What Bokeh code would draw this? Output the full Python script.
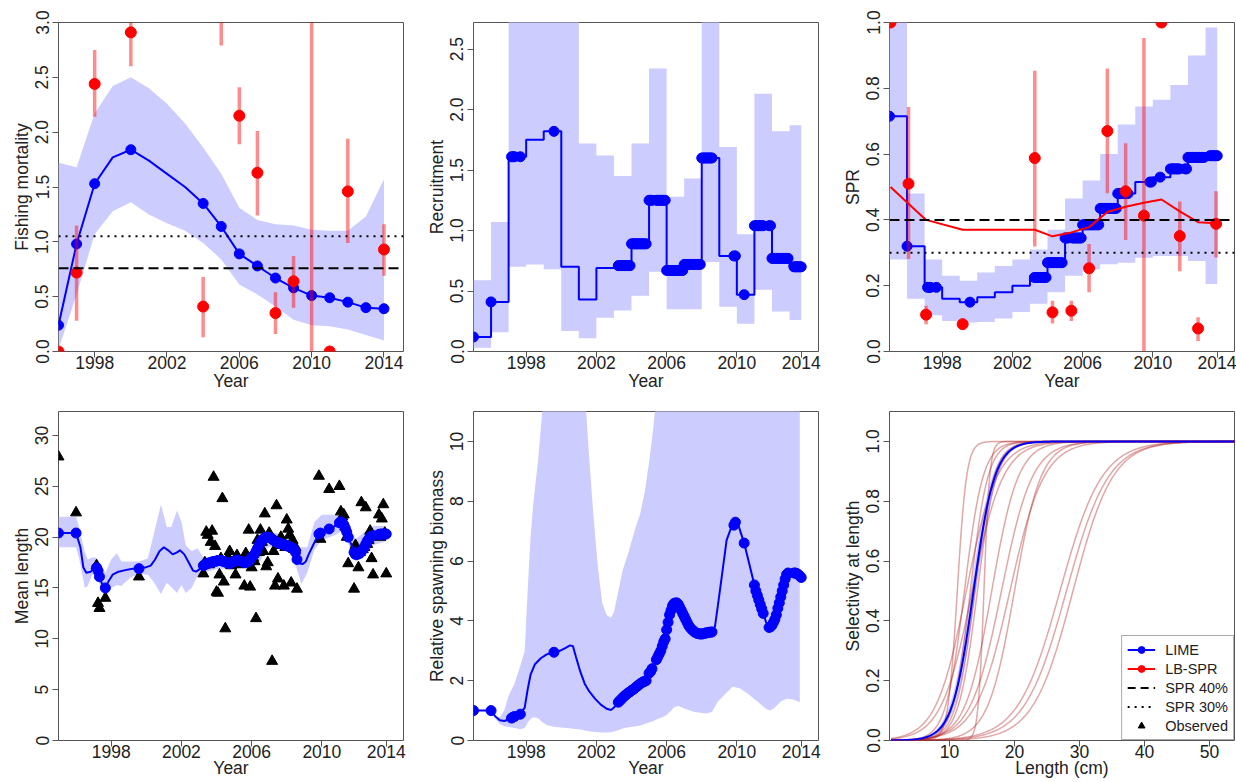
import numpy as np
from bokeh.plotting import figure
from bokeh.layouts import gridplot
from bokeh.models import (FixedTicker, PrintfTickFormatter, Range1d, Legend,
                          LegendItem, Span)
from bokeh.embed import file_html
from bokeh.resources import INLINE

FONT = "Liberation Sans"
AXIS_FONT_SIZE = "17.5px"
BLUE = "#0000ff"
BAND = "#ccccff"
RED = "#ff0000"
INK = "#222222"
FRAME = "#555555"

# ---------------------------------------------------------------- data ----
# Annual fishing mortality (LIME estimate with interval)
f_years = list(range(1996, 2015))
f_est = [0.24, 0.98, 1.53, 1.77, 1.84, 1.74, 1.62, 1.50, 1.35, 1.14, 0.89,
         0.78, 0.67, 0.58, 0.51, 0.49, 0.45, 0.40, 0.39]
f_lo = [0.02, 0.52, 1.07, 1.28, 1.36, 1.25, 1.17, 1.10, 0.99, 0.84, 0.61,
        0.52, 0.41, 0.29, 0.24, 0.23, 0.20, 0.15, 0.10]
f_hi = [1.72, 1.68, 2.17, 2.42, 2.50, 2.40, 2.26, 2.08, 1.86, 1.62, 1.31,
        1.20, 1.16, 1.15, 1.11, 1.10, 1.10, 1.23, 1.57]
f_ref40 = 0.76
f_ref30 = 1.05

# LB-SPR annual estimates (years with length data)
lb_years = [1996, 1997, 1998, 2000, 2004, 2005, 2006, 2007, 2008, 2009,
            2010, 2011, 2012, 2013, 2014]
lb_f = [0.0, 0.72, 2.44, 2.91, 0.41, 3.60, 2.15, 1.63, 0.35, 0.64,
        4.80, 0.0, 1.46, 6.50, 0.93]
lb_f_lo = [0.0, 0.28, 2.14, 2.60, 0.13, 2.79, 1.89, 1.24, 0.16, 0.40,
           0.0, 0.0, 0.99, 5.00, 0.69]
lb_f_hi = [0.0, 1.15, 2.75, 3.30, 0.68, 4.60, 2.41, 2.01, 0.54, 0.87,
           9.00, 0.0, 1.94, 8.00, 1.16]
# same estimates on the monthly time axis
lb_month = [1.7, 14.0, 26.0, 51.0, 100.3, 112.4, 125.3, 137.4, 149.9, 162.4,
            174.9, 186.9, 199.4, 211.9, 224.2]
lb_spr = [1.0, 0.51, 0.112, 0.083, 0.588, 0.119, 0.124, 0.253, 0.67, 0.487,
          0.413, 1.0, 0.351, 0.07, 0.388]
lb_spr_lo = [1.0, 0.281, 0.083, 0.068, 0.319, 0.085, 0.093, 0.18, 0.481,
             0.339, 0.0, 1.0, 0.244, 0.032, 0.286]
lb_spr_hi = [1.0, 0.743, 0.139, 0.10, 0.853, 0.154, 0.154, 0.327, 0.86,
             0.633, 0.953, 1.0, 0.456, 0.104, 0.487]
lb_spr_smooth = [0.50, 0.449, 0.40, 0.37, 0.37, 0.35, 0.362, 0.378, 0.424,
                 0.44, 0.452, 0.462, 0.426, 0.393, 0.39]
spr_ref40 = 0.4
spr_ref30 = 0.3

# Monthly time steps (1 = Jan 1995) that carry length observations
obs_months = ([1, 13, 27, 28, 29, 33, 56] + list(range(100, 120)) +
              [121, 122, 123] + list(range(126, 165)) + [179, 180, 186] +
              list(range(193, 200)) + list(range(203, 217)) +
              list(range(220, 226)))
last_month = 225
tick_months = [37, 85, 133, 181, 225]
tick_labels = ["1998", "2002", "2006", "2010", "2014"]

# Annual recruitment and SPR (LIME), with intervals
ann_years = list(range(1995, 2014))
rec_est = [0.12, 0.41, 1.61, 1.75, 1.82, 0.70, 0.43, 0.69, 0.71, 0.89, 1.25,
           0.67, 0.72, 1.60, 0.79, 0.47, 1.04, 0.77, 0.70]
rec_lo = [0.03, 0.16, 0.70, 0.72, 0.68, 0.17, 0.11, 0.28, 0.34, 0.46, 0.66,
          0.35, 0.35, 0.74, 0.37, 0.23, 0.51, 0.33, 0.26]
rec_hi = [0.59, 1.07, 5.0, 5.0, 5.0, 5.0, 1.72, 1.62, 1.45, 1.72, 2.34,
          1.28, 1.43, 5.0, 1.69, 0.97, 2.13, 1.82, 1.87]
spr_est = [0.715, 0.32, 0.195, 0.16, 0.15, 0.165, 0.18, 0.20, 0.225, 0.27,
           0.345, 0.385, 0.435, 0.48, 0.515, 0.53, 0.555, 0.59, 0.595]
spr_lo = [0.28, 0.16, 0.11, 0.093, 0.088, 0.09, 0.10, 0.12, 0.145, 0.18,
          0.23, 0.25, 0.265, 0.27, 0.285, 0.29, 0.29, 0.275, 0.205]
spr_hi = [1.0, 0.48, 0.28, 0.23, 0.215, 0.24, 0.26, 0.28, 0.31, 0.37,
          0.465, 0.52, 0.60, 0.69, 0.745, 0.765, 0.81, 0.90, 0.985]

# Mean length: estimated curve (monthly knots), interval and observations
ml_months = ([1, 13, 16, 18, 20, 23, 25, 27, 28, 29, 31, 33, 35, 38, 42, 48,
              52, 56, 60, 64, 67, 70, 73, 76, 79, 82, 84, 87, 90, 93, 95, 97] +
             list(range(100, 120)) + [121, 122, 123] + list(range(126, 165)) +
             [166, 168, 170, 172, 175, 177, 179, 180, 183, 186, 189, 191] +
             list(range(193, 200)) + [201] + list(range(203, 217)) + [218] +
             list(range(220, 226)))
ml_est = ([20.4, 20.4, 19.0, 17.0, 16.5, 16.6, 16.9, 17.0, 16.7, 16.1, 15.3,
           15.0, 15.6, 16.3, 16.6, 16.8, 16.9, 16.9, 17.0, 17.2, 17.8, 18.6,
           19.0, 18.7, 18.3, 18.5, 18.7, 18.3, 17.5, 16.7, 16.6, 16.8] +
          [17.2, 17.3, 17.35, 17.4, 17.45, 17.5, 17.55, 17.6, 17.6, 17.65,
           17.7, 17.7, 17.7, 17.65, 17.6, 17.55, 17.5, 17.45, 17.4, 17.45] +
          [17.6, 17.7, 17.75] +
          [17.6, 17.55, 17.5, 17.5, 17.55, 17.6, 17.8, 18.0, 18.15, 18.3,
           18.6, 18.9, 19.2, 19.5, 19.7, 19.8, 19.9, 20.0, 20.0, 19.95,
           19.9, 19.8, 19.7, 19.6, 19.5, 19.45, 19.4, 19.35, 19.3, 19.25,
           19.2, 19.15, 19.1, 19.05, 19.0, 18.9, 18.8, 18.5, 17.8] +
          [17.4, 17.35, 17.6, 18.3, 19.2, 19.8, 20.3, 20.4, 20.6, 20.8,
           21.0, 21.2] +
          [21.4, 21.5, 21.4, 21.2, 20.9, 20.5, 20.0] + [19.3] +
          [18.5, 18.3, 18.3, 18.35, 18.45, 18.6, 18.8, 19.0, 19.3, 19.6,
           19.8, 20.0, 20.1, 20.15] + [20.2] +
          [20.25, 20.3, 20.3, 20.3, 20.3, 20.3])
mlb_months = [1, 13, 15, 19, 21, 24, 27, 30, 33, 37, 41, 44, 50, 56, 62, 66,
              71, 75, 78, 82, 85, 88, 92, 96, 100, 110, 120, 132, 138, 144,
              152, 160, 164, 167, 171, 176, 181, 190, 195, 200, 204, 210,
              216, 225]
mlb_lo = [19.0, 19.0, 18.0, 15.0, 15.2, 16.3, 16.3, 15.0, 14.0, 15.0, 15.3,
          15.2, 16.0, 16.4, 16.3, 15.6, 14.4, 15.5, 15.1, 14.5, 15.3, 14.5,
          15.0, 16.2, 16.5, 16.9, 16.9, 17.0, 17.4, 19.0, 19.2, 18.8, 16.8,
          15.4, 16.5, 18.8, 19.7, 20.2, 20.6, 19.0, 17.6, 18.0, 19.2, 19.6]
mlb_hi = [22.0, 22.0, 21.0, 18.5, 17.8, 18.0, 18.0, 17.3, 16.5, 17.8, 18.4,
          17.6, 17.6, 17.6, 17.9, 20.2, 23.2, 21.0, 21.0, 22.6, 21.5, 19.2,
          18.6, 18.9, 18.0, 18.2, 18.0, 18.3, 19.0, 20.6, 20.3, 19.8, 19.0,
          19.0, 19.0, 21.5, 22.2, 22.2, 22.6, 21.0, 19.8, 20.5, 21.1, 21.1]
ml_obs = ([27.9, 22.4, 17.2, 13.5, 13.0, 14.0, 16.1] +
          [16.4, 17.5, 20.5, 20.2, 17.3, 19.5, 20.6, 25.9, 19.1, 14.6, 14.5,
           16.3, 17.9, 23.8, 15.6, 11.0, 17.6, 18.0, 18.6, 17.2] +
          [17.5, 16.3, 18.2] +
          [17.3, 17.8, 15.2, 18.4, 17.6, 20.7, 15.1, 17.0, 18.0, 17.6, 12.0,
           19.7, 18.5, 20.7, 19.5, 18.6, 22.3, 17.1, 17.5, 20.4, 19.8, 7.8,
           18.6, 15.2, 23.1, 15.9, 19.2, 20.0, 19.5, 15.2, 19.0, 21.7, 20.8,
           20.2, 15.5, 19.7, 18.8, 19.0, 14.9] +
          [26.0, 19.8, 24.7] +
          [25.0, 22.5, 22.0, 22.2, 21.0, 20.0, 17.4] +
          [14.9, 19.2, 18.3, 17.0, 18.5, 23.4, 18.8, 19.0, 22.9, 19.3, 19.7,
           20.6, 17.9, 16.3] +
          [22.2, 20.0, 21.8, 23.2, 20.4, 16.4])

# Relative spawning biomass: estimated curve (monthly knots) and interval
sb_months = ([1, 13, 16, 19, 22, 25, 27, 28, 29, 31, 33, 36, 38, 40, 43, 47,
              51, 56, 60, 64, 67, 69, 71, 74, 77, 80, 84, 88, 92, 95, 97] +
             list(range(100, 120)) + [121, 122, 123] + list(range(126, 165)) +
             [166, 168, 171, 174, 177, 179, 180, 182, 184, 186, 188, 191] +
             list(range(193, 200)) + [201] + list(range(203, 217)) + [218] +
             list(range(220, 226)))
sb_est = ([1.0, 1.0, 0.8, 0.68, 0.65, 0.7, 0.75, 0.78, 0.8, 0.85, 0.88, 1.1,
           1.7, 2.2, 2.55, 2.75, 2.88, 2.95, 3.0, 3.1, 3.18, 3.15, 2.8, 2.3,
           1.9, 1.65, 1.4, 1.2, 1.06, 1.02, 1.1] +
          [1.28, 1.33, 1.38, 1.43, 1.48, 1.52, 1.56, 1.6, 1.63, 1.67, 1.7,
           1.74, 1.78, 1.82, 1.86, 1.9, 1.93, 1.96, 1.98, 2.0] +
          [2.25, 2.3, 2.4] +
          [2.7, 2.8, 2.9, 3.0, 3.15, 3.3, 3.4, 3.7, 3.95, 4.2, 4.35, 4.5,
           4.58, 4.6, 4.6, 4.55, 4.45, 4.35, 4.25, 4.15, 4.05, 3.95, 3.85,
           3.78, 3.72, 3.68, 3.63, 3.6, 3.58, 3.57, 3.56, 3.56, 3.57, 3.58,
           3.6, 3.6, 3.62, 3.62, 3.63] +
          [3.8, 4.5, 5.6, 6.7, 7.1, 7.2, 7.3, 7.2, 6.9, 6.6, 6.2, 5.6] +
          [5.2, 5.0, 4.85, 4.7, 4.55, 4.4, 4.25] + [3.95] +
          [3.78, 3.8, 3.85, 3.95, 4.05, 4.2, 4.42, 4.6, 4.8, 5.0, 5.2, 5.4,
           5.55, 5.6] + [5.6] +
          [5.6, 5.6, 5.58, 5.55, 5.5, 5.45])
sbb_months = [13, 16, 19, 22, 25, 29, 33, 36, 38, 40, 42, 45, 48, 51, 57, 68,
              75, 78, 80, 83, 86, 89, 92, 95, 97, 100, 103, 107, 111, 115, 118,
              121, 124, 126, 130, 133, 138, 141, 146, 152, 160, 164, 168, 174,
              178, 183, 189, 195, 201, 204, 207, 211, 215, 219, 224]
sbb_lo = [1.0, 0.72, 0.55, 0.48, 0.45, 0.42, 0.38, 0.42, 0.6, 0.72, 0.78,
          0.75, 0.62, 0.52, 0.45, 0.40, 0.36, 0.33, 0.31, 0.29, 0.28, 0.27,
          0.27, 0.28, 0.30, 0.34, 0.40, 0.44, 0.47, 0.50, 0.55, 0.60, 0.65,
          0.70, 0.78, 0.85, 1.10, 1.15, 1.05, 0.95, 0.90, 0.95, 1.30, 1.60,
          1.80, 1.75, 1.55, 1.30, 1.05, 1.00, 1.10, 1.30, 1.40, 1.38, 1.28]
sbb_hi = [1.0, 0.78, 0.78, 1.0, 1.5, 1.9, 2.5, 3.0, 5.0, 6.8, 8.0, 9.3, 11.0,
          14.0, 25.0, 30.0, 20.0, 11.0, 9.5, 7.5, 5.8, 4.6, 4.2, 4.1, 4.3,
          5.0, 5.7, 6.3, 7.0, 7.6, 8.3, 9.3, 10.5, 11.5, 15.0, 20.0, 25.0,
          25.0, 25.0, 25.0, 25.0, 25.0, 25.0, 25.0, 25.0, 25.0, 25.0, 25.0,
          25.0, 25.0, 25.0, 25.0, 25.0, 25.0, 25.0]

# Selectivity at length: logistic parameters (length at 50% / 95%)
lime_s50, lime_s95 = 13.7, 18.5
lime_s50_lo, lime_s50_hi = 13.3, 14.1
lb_sel_s50 = [11.2, 12.3, 12.6, 13.2, 13.5, 13.9, 14.3, 15.3, 16.5, 18.0,
              19.3, 20.0, 27.0, 28.0, 29.0]
lb_sel_s95 = [13.3, 16.5, 19.5, 17.2, 20.5, 18.2, 18.6, 16.6, 22.5, 25.0,
              27.0, 26.0, 36.5, 37.5, 38.0]
length_min, length_max = 1, 54


# --------------------------------------------------------------- helpers ----
def make_fig(xr, yr, left, right, top, bottom, xlabel, ylabel,
             title_standoff):
    p = figure(frame_width=345, frame_height=329,
               x_range=Range1d(*xr), y_range=Range1d(*yr),
               output_backend="svg", toolbar_location=None,
               min_border_left=left, min_border_right=right,
               min_border_top=top, min_border_bottom=bottom,
               x_axis_label=xlabel, y_axis_label=ylabel)
    p.xgrid.visible = False
    p.ygrid.visible = False
    p.outline_line_color = FRAME
    p.outline_line_width = 1
    p.background_fill_color = "white"
    p.border_fill_color = "white"
    for ax in (p.xaxis[0], p.yaxis[0]):
        ax.axis_line_color = None
        ax.major_tick_line_color = FRAME
        ax.major_tick_in = 0
        ax.major_tick_out = 6
        ax.minor_tick_line_color = None
        ax.major_label_text_font = FONT
        ax.major_label_text_font_size = AXIS_FONT_SIZE
        ax.major_label_text_color = INK
        ax.axis_label_text_font = FONT
        ax.axis_label_text_font_size = AXIS_FONT_SIZE
        ax.axis_label_text_font_style = "normal"
        ax.axis_label_text_color = INK
    p.xaxis[0].major_label_standoff = -2
    p.xaxis[0].axis_label_standoff = title_standoff
    p.yaxis[0].major_label_standoff = 4
    p.yaxis[0].axis_label_standoff = 1
    p.yaxis[0].major_label_orientation = "vertical"
    return p


def month_axis(p):
    p.xaxis.ticker = FixedTicker(ticks=tick_months)
    p.xaxis.major_label_overrides = dict(zip(tick_months, tick_labels))


def y_ticks(p, ticks, fmt):
    p.yaxis.ticker = FixedTicker(ticks=ticks)
    p.yaxis.formatter = PrintfTickFormatter(format=fmt)


def hline(p, y, dash):
    p.add_layout(Span(location=y, dimension="width", line_color="black",
                      line_width=2, line_dash=dash))


def logistic(lengths, s50, s95):
    return 1.0 / (1.0 + np.exp(-np.log(19.0) * (lengths - s50) / (s95 - s50)))


DASH = "10 5"
DOT = "2 5"
month_range = (1, 236.8)
year_edges = [12 * (y - 1995) + 1 for y in ann_years] + [last_month]


def annual_at(values, months):
    return [values[(m - 1) // 12] for m in months]


TOP_ROW = dict(top=22, bottom=50, title_standoff=-1)
BOTTOM_ROW = dict(top=10, bottom=41, title_standoff=-3)

# ----------------------------------------------------- fishing mortality ----
p1 = make_fig((1996, 2015.08), (0, 3), 58, 9, xlabel="Year",
              ylabel="Fishing mortality", **TOP_ROW)
p1.xaxis.ticker = FixedTicker(ticks=[1998, 2002, 2006, 2010, 2014])
y_ticks(p1, [0, 0.5, 1.0, 1.5, 2.0, 2.5, 3.0], "%.1f")
p1.varea(x=f_years, y1=f_lo, y2=f_hi, fill_color=BAND)
p1.line(f_years, f_est, line_color=BLUE, line_width=2)
f_lookup = dict(zip(f_years, f_est))
p1.scatter(lb_years, [f_lookup[y] for y in lb_years], size=10,
           color=BLUE)
p1.segment(x0=lb_years, y0=lb_f_lo, x1=lb_years, y1=lb_f_hi,
           line_color=RED, line_alpha=0.45, line_width=3.5)
p1.scatter(lb_years, lb_f, size=11, color=RED)
hline(p1, f_ref30, DOT)
hline(p1, f_ref40, DASH)

# ------------------------------------------------------------ recruitment ----
p2 = make_fig(month_range, (0, 2.72), 61, 6, xlabel="Year",
              ylabel="Recruitment", **TOP_ROW)
month_axis(p2)
y_ticks(p2, [0, 0.5, 1.0, 1.5, 2.0, 2.5], "%.1f")
p2.varea_step(x=year_edges, y1=rec_lo + [rec_lo[-1]],
              y2=rec_hi + [rec_hi[-1]], step_mode="after", fill_color=BAND)
p2.step(year_edges, rec_est + [rec_est[-1]], mode="after",
        line_color=BLUE, line_width=2)
p2.scatter(obs_months, annual_at(rec_est, obs_months), size=10, color=BLUE)

# -------------------------------------------------------------------- SPR ----
p3 = make_fig(month_range, (0, 1.0), 65, 2, xlabel="Year", ylabel="SPR",
              **TOP_ROW)
month_axis(p3)
y_ticks(p3, [0, 0.2, 0.4, 0.6, 0.8, 1.0], "%.1f")
p3.varea_step(x=year_edges, y1=spr_lo + [spr_lo[-1]],
              y2=spr_hi + [spr_hi[-1]], step_mode="after", fill_color=BAND)
p3.step(year_edges, spr_est + [spr_est[-1]], mode="after",
        line_color=BLUE, line_width=2)
p3.scatter(obs_months, annual_at(spr_est, obs_months), size=10, color=BLUE)
p3.line(lb_month, lb_spr_smooth, line_color=RED, line_width=2)
p3.segment(x0=lb_month, y0=lb_spr_lo, x1=lb_month, y1=lb_spr_hi,
           line_color=RED, line_alpha=0.45, line_width=3.5)
p3.scatter(lb_month, lb_spr, size=11, color=RED)
hline(p3, spr_ref40, DASH)
hline(p3, spr_ref30, DOT)

# ------------------------------------------------------------ mean length ----
p4 = make_fig(month_range, (0, 32.35), 58, 9, xlabel="Year",
              ylabel="Mean length", **BOTTOM_ROW)
month_axis(p4)
y_ticks(p4, [0, 5, 10, 15, 20, 25, 30], "%d")
p4.varea(x=mlb_months, y1=mlb_lo, y2=mlb_hi, fill_color=BAND)
p4.scatter(obs_months, ml_obs, marker="triangle", size=11, color="black")
p4.line(ml_months, ml_est, line_color=BLUE, line_width=2)
ml_lookup = dict(zip(ml_months, ml_est))
p4.scatter(obs_months, [ml_lookup[m] for m in obs_months], size=10,
           color=BLUE)

# ------------------------------------------------ relative spawning biomass --
p5 = make_fig(month_range, (0, 11.0), 61, 6, xlabel="Year",
              ylabel="Relative spawning biomass", **BOTTOM_ROW)
month_axis(p5)
y_ticks(p5, [0, 2, 4, 6, 8, 10], "%d")
p5.varea(x=sbb_months, y1=sbb_lo, y2=sbb_hi, fill_color=BAND)
p5.line(sb_months, sb_est, line_color=BLUE, line_width=2)
sb_lookup = dict(zip(sb_months, sb_est))
p5.scatter(obs_months, [sb_lookup[m] for m in obs_months], size=10,
           color=BLUE)

# ------------------------------------------------------------ selectivity ----
p6 = make_fig((0.77, 53.85), (0, 1.1), 65, 2, xlabel="Length (cm)",
              ylabel="Selectivity at length", **BOTTOM_ROW)
p6.xaxis.ticker = FixedTicker(ticks=[10, 20, 30, 40, 50])
y_ticks(p6, [0, 0.2, 0.4, 0.6, 0.8, 1.0], "%.1f")
lengths = np.linspace(length_min, length_max, 300)
p6.varea(x=lengths, y1=logistic(lengths, lime_s50_hi, lime_s95 + 0.4),
         y2=logistic(lengths, lime_s50_lo, lime_s95 - 0.4), fill_color=BAND)
for s50, s95 in zip(lb_sel_s50, lb_sel_s95):
    p6.line(lengths, logistic(lengths, s50, s95), line_color="#b22222",
            line_alpha=0.4, line_width=1.5)
lime_line = p6.line(lengths, logistic(lengths, lime_s50, lime_s95),
                    line_color=BLUE, line_width=2)

# legend keys (one undrawn point each, so the key glyph gets a style)
nan = [float("nan")]
lime_pt = p6.scatter(nan, nan, size=9, color=BLUE)
lb_line = p6.line(nan, nan, line_color=RED, line_width=2)
lb_pt = p6.scatter(nan, nan, size=9, color=RED)
ref40_line = p6.line(nan, nan, line_color="black", line_width=2,
                     line_dash="8 5")
ref30_line = p6.line(nan, nan, line_color="black", line_width=2,
                     line_dash=DOT)
obs_pt = p6.scatter(nan, nan, marker="triangle", size=9, color="black")
legend = Legend(items=[
    LegendItem(label="LIME", renderers=[lime_line, lime_pt]),
    LegendItem(label="LB-SPR", renderers=[lb_line, lb_pt]),
    LegendItem(label="SPR 40%", renderers=[ref40_line]),
    LegendItem(label="SPR 30%", renderers=[ref30_line]),
    LegendItem(label="Observed", renderers=[obs_pt]),
], location="bottom_right")
legend.margin = 0
legend.padding = 5
legend.spacing = 2
legend.glyph_width = 28
legend.glyph_height = 17
legend.label_height = 17
legend.label_standoff = 10
legend.label_text_font = FONT
legend.label_text_font_size = "14.5px"
legend.label_text_color = INK
legend.border_line_color = FRAME
legend.background_fill_alpha = 1.0
p6.add_layout(legend)

grid = gridplot([[p1, p2, p3], [p4, p5, p6]], toolbar_location=None)

html = file_html(grid, INLINE)
html = html.replace("</head>",
                    "<style>html,body{margin:0;overflow:hidden;}</style></head>")
open("out.html", "w").write(html)
